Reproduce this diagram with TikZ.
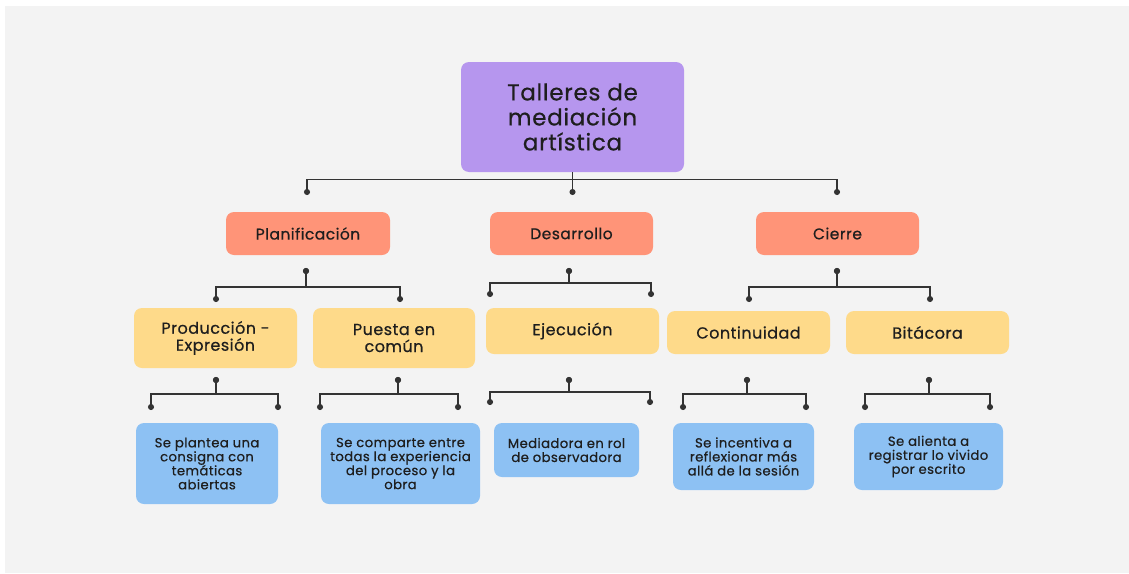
\documentclass[tikz,border=0pt]{standalone}
\usepackage{fontspec}
\setmainfont{Poppins}[FakeBold=0.6, LetterSpace=3]
\usepackage{tikz}
\usetikzlibrary{arrows.meta}
\definecolor{bgcol}{HTML}{F3F3F3}
\definecolor{rootcol}{HTML}{B696EE}
\definecolor{stagecol}{HTML}{FF9478}
\definecolor{stepcol}{HTML}{FEDA8A}
\definecolor{notecol}{HTML}{8DC1F3}
\definecolor{linecol}{HTML}{333333}
\definecolor{textcol}{HTML}{1E1E1E}
\tikzset{
  box/.style={rounded corners=8pt, align=center, inner sep=0pt, text=textcol},
  rootbox/.style={box, fill=rootcol, minimum width=223pt, minimum height=110pt, font=\fontsize{23}{25}\selectfont},
  stagebox/.style={box, fill=stagecol, minimum width=163pt, minimum height=43pt, font=\fontsize{15.5}{17}\selectfont},
  stepbox/.style={box, fill=stepcol, minimum width=163pt, font=\fontsize{16}{17}\selectfont},
  notebox/.style={box, fill=notecol, font=\fontsize{13.2}{14}\selectfont},
  link/.style={draw=linecol, line width=1.4pt, -{Circle[length=6pt]}},
  fork/.style={draw=linecol, line width=1.4pt, {Circle[length=6pt]}-{Circle[length=6pt]}}
}
\begin{document}
\begin{tikzpicture}[x=1pt,y=-1pt]
\useasboundingbox (0,0) rectangle (1129,573);
\fill[bgcol] (5,6) rectangle (1129,573);

\node[rootbox] (root) at (572.5,117) {Talleres de\\mediación\\artística};

\node[stagebox, minimum width=164pt] (plan) at (308,233.5) {Planificación};
\node[stagebox] (des) at (571.5,233.5) {Desarrollo};
\node[stagebox] (cie) at (837.5,233.5) {Cierre};

\node[stepbox, minimum height=60pt] (prod) at (215.5,338) {Producción -\\Expresión};
\node[stepbox, minimum width=162pt, minimum height=60pt] (puesta) at (394,338) {Puesta en\\común};
\node[stepbox, minimum width=173pt, minimum height=46pt] (ejec) at (572.5,331) {Ejecución};
\node[stepbox, minimum height=43pt] (cont) at (748.5,332.5) {Continuidad};
\node[stepbox, minimum height=43pt] (bita) at (927.5,332.5) {Bitácora};

\node[notebox, minimum width=142pt, minimum height=81pt] (plantea) at (207,463.5) {Se plantea una\\consigna con\\temáticas\\abiertas};
\node[notebox, minimum width=159pt, minimum height=81pt] (comparte) at (400.5,463.5) {Se comparte entre\\todas la experiencia\\del proceso y la\\obra};
\node[notebox, minimum width=145pt, minimum height=54pt] (mediadora) at (566.5,450) {Mediadora en rol\\de observadora};
\node[notebox, minimum width=141pt, minimum height=67pt] (incentiva) at (743.5,456.5) {Se incentiva a\\reflexionar más\\allá de la sesión};
\node[notebox, minimum width=149pt, minimum height=67pt] (alienta) at (928.5,456.5) {Se alienta a\\registrar lo vivido\\por escrito};

% dots of the forks
\coordinate (root-a) at (307,195);
\coordinate (root-b) at (572.5,195);
\coordinate (root-c) at (837,195);
\coordinate (plan-in) at (306,268);
\coordinate (plan-a) at (216,302);
\coordinate (plan-b) at (400,302);
\coordinate (des-in) at (569,268);
\coordinate (des-a) at (490,297);
\coordinate (des-b) at (651,297);
\coordinate (cie-in) at (837,268);
\coordinate (cie-a) at (749,302);
\coordinate (cie-b) at (930,302);
\coordinate (prod-in) at (216,377);
\coordinate (prod-a) at (151,410);
\coordinate (prod-b) at (278,410);
\coordinate (puesta-in) at (398,377);
\coordinate (puesta-a) at (320,410);
\coordinate (puesta-b) at (458,410);
\coordinate (ejec-in) at (569,377);
\coordinate (ejec-a) at (490,405);
\coordinate (ejec-b) at (650,405);
\coordinate (cont-in) at (747,377);
\coordinate (cont-a) at (683,410);
\coordinate (cont-b) at (806,410);
\coordinate (bita-in) at (929,377);
\coordinate (bita-a) at (865,410);
\coordinate (bita-b) at (990,410);

\draw[link] (root.south) -- ++(0,7) -| (root-a);
\draw[link] (root.south) -- (root-b);
\draw[link] (root.south) -- ++(0,7) -| (root-c);

\draw[fork] (plan-in) -- ++(0,19) -| (plan-a);
\draw[fork] (plan-in) -- ++(0,19) -| (plan-b);
\draw[fork] (des-in) -- ++(0,15) -| (des-a);
\draw[fork] (des-in) -- ++(0,15) -| (des-b);
\draw[fork] (cie-in) -- ++(0,19) -| (cie-a);
\draw[fork] (cie-in) -- ++(0,19) -| (cie-b);

\draw[fork] (prod-in) -- ++(0,17) -| (prod-a);
\draw[fork] (prod-in) -- ++(0,17) -| (prod-b);
\draw[fork] (puesta-in) -- ++(0,17) -| (puesta-a);
\draw[fork] (puesta-in) -- ++(0,17) -| (puesta-b);
\draw[fork] (ejec-in) -- ++(0,15) -| (ejec-a);
\draw[fork] (ejec-in) -- ++(0,15) -| (ejec-b);
\draw[fork] (cont-in) -- ++(0,17) -| (cont-a);
\draw[fork] (cont-in) -- ++(0,17) -| (cont-b);
\draw[fork] (bita-in) -- ++(0,17) -| (bita-a);
\draw[fork] (bita-in) -- ++(0,17) -| (bita-b);
\end{tikzpicture}
\end{document}
